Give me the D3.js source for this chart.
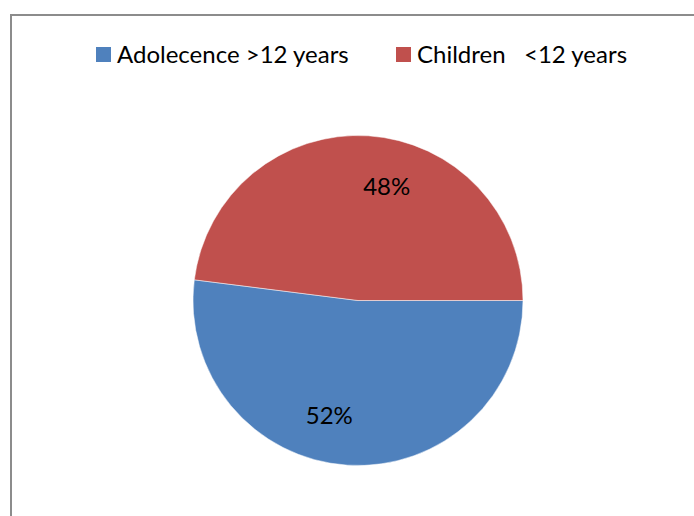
<!DOCTYPE html>
<meta charset="utf-8">
<script src="https://d3js.org/d3.v7.min.js"></script>
<style>
  body { margin: 0; background: #fff; }
  text { font-family: Lato, "Open Sans", sans-serif; fill: #000; white-space: pre; }
</style>
<svg id="my_dataviz" width="694" height="516"></svg>
<script>

// Data
var categories = ["Adolecence >12 years", "Children   <12 years"];
var values = [52, 48];
var colors = ["#4F81BD", "#C0504D"];

var svg = d3.select("svg"),
  width = +svg.attr("width"),
  height = +svg.attr("height");

// chart frame (runs off the right and bottom edges)
svg.append("rect")
  .attr("x", 11).attr("y", 15)
  .attr("width", 720).attr("height", 540)
  .attr("fill", "#fff")
  .attr("stroke", "#8c8c8c")
  .attr("stroke-width", 2);

var cx = 358, cy = 300.5, radius = 165;

var pie = d3.pie()
  .sort(null)
  .value(function(d) { return d; })
  .startAngle(Math.PI / 2)
  .endAngle(Math.PI / 2 + 2 * Math.PI);

var arc = d3.arc().innerRadius(0).outerRadius(radius);

var g = svg.append("g").attr("transform", "translate(" + cx + "," + cy + ")");

var arcs = pie(values);

g.selectAll("path")
  .data(arcs)
  .enter()
  .append("path")
    .attr("d", arc)
    .attr("fill", function(d, i) { return colors[i]; })
    .attr("stroke", "#fff")
    .attr("stroke-width", 0.5);

// percent labels, nudged round a little like Excel does
var labelShift = 10.5 * Math.PI / 180;
var labelR = 118;
g.selectAll("text.pct")
  .data(arcs)
  .enter()
  .append("text")
    .attr("class", "pct")
    .attr("x", function(d) { var a = (d.startAngle + d.endAngle) / 2 + labelShift; return labelR * Math.sin(a); })
    .attr("y", function(d) { var a = (d.startAngle + d.endAngle) / 2 + labelShift; return -labelR * Math.cos(a); })
    .attr("dy", "0.36em")
    .attr("text-anchor", "middle")
    .style("font-size", "24px")
    .text(function(d) { return d3.format(".0%")(d.data / d3.sum(values)); });

// legend
var legendX = [96, 396];
var legend = svg.selectAll("g.legend")
  .data(categories)
  .enter()
  .append("g")
    .attr("class", "legend")
    .attr("transform", function(d, i) { return "translate(" + legendX[i] + ",47)"; });

legend.append("rect")
  .attr("width", 15).attr("height", 15)
  .attr("fill", function(d, i) { return colors[i]; });

legend.append("text")
  .attr("x", 21).attr("y", 15.5)
  .style("font-size", "24px")
  .text(function(d) { return d; });

</script>
